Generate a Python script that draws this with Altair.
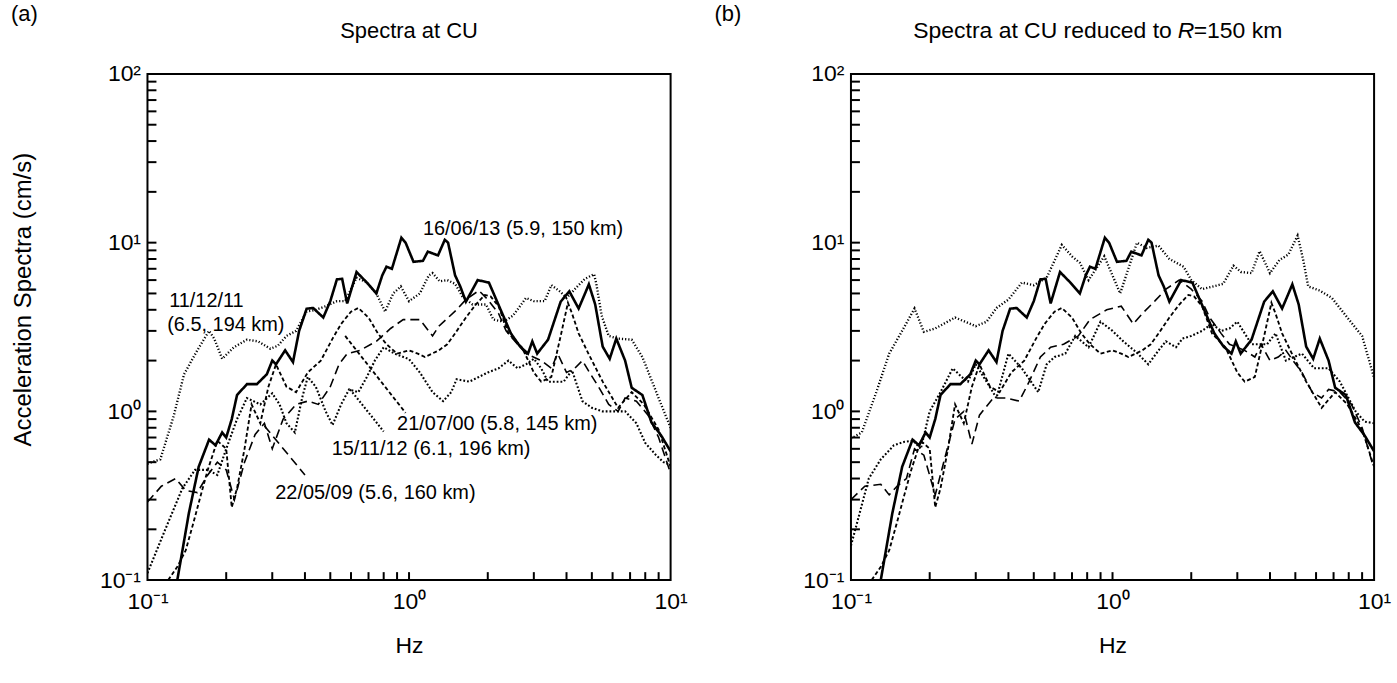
import altair as alt
import pandas as pd

FONT = "Liberation Sans"
W, H = 525, 508

# ---------------- data ----------------
# 16/06/13 (5.9, 150 km) - solid, same in both panels
s_f = [0.13, 0.135, 0.144, 0.157, 0.172, 0.182, 0.193, 0.2, 0.21, 0.22, 0.24, 0.262, 0.286, 0.3, 0.31, 0.336, 0.36, 0.38, 0.406, 0.43, 0.47, 0.5, 0.53, 0.555, 0.58, 0.63, 0.69, 0.75, 0.79, 0.82, 0.86, 0.935, 0.97, 1.04, 1.13, 1.18, 1.29, 1.37, 1.41, 1.5, 1.57, 1.65, 1.83, 2.02, 2.2, 2.45, 2.66, 2.85, 2.96, 3.09, 3.4, 3.8, 4.1, 4.45, 4.87, 5.15, 5.5, 5.85, 6.2, 6.7, 7.1, 7.8, 8.45, 9.2, 10.0]
s_v = [0.1, 0.14, 0.25, 0.47, 0.68, 0.63, 0.75, 0.7, 0.9, 1.25, 1.45, 1.45, 1.66, 2.0, 1.9, 2.3, 1.96, 3.0, 4.06, 4.1, 3.6, 4.5, 6.06, 6.1, 4.36, 6.7, 5.8, 5.0, 6.4, 7.2, 7.0, 10.7, 10.0, 7.7, 7.8, 8.85, 8.4, 10.4, 10.0, 6.4, 5.5, 4.47, 6.0, 5.8, 4.27, 2.9, 2.42, 2.2, 2.6, 2.2, 2.66, 4.47, 5.15, 4.07, 5.66, 4.3, 2.42, 2.05, 2.7, 2.0, 1.38, 1.25, 0.86, 0.72, 0.58]

# 11/12/11 (6.5, 194 km) - fine dots
b_a_f = [0.1, 0.112, 0.126, 0.138, 0.155, 0.172, 0.18, 0.193, 0.214, 0.24, 0.265, 0.295, 0.315, 0.34, 0.37, 0.406, 0.44, 0.48, 0.53, 0.57, 0.63, 0.69, 0.75, 0.81, 0.87, 0.93, 1.0, 1.1, 1.19, 1.23, 1.31, 1.4, 1.5, 1.6, 1.75, 1.97, 2.1, 2.3, 2.5, 2.8, 3.0, 3.3, 3.5, 3.8, 4.0, 4.45, 4.7, 5.1, 5.2, 5.45, 5.8, 6.3, 7.1, 7.8, 8.5, 9.2, 10.0]
b_a_v = [0.49, 0.52, 0.94, 1.66, 2.3, 3.0, 2.7, 2.05, 2.4, 2.66, 2.6, 2.35, 2.45, 2.8, 3.0, 3.9, 4.0, 4.2, 4.5, 4.5, 6.2, 5.8, 5.0, 3.9, 5.0, 5.5, 4.5, 5.0, 6.4, 6.6, 5.9, 6.0, 5.7, 4.8, 4.3, 4.3, 3.5, 3.4, 3.7, 4.7, 4.5, 4.5, 5.6, 5.1, 4.7, 5.6, 6.1, 6.5, 5.7, 3.7, 2.8, 2.7, 2.66, 2.1, 1.5, 1.1, 0.8]
b_b_f = [0.1, 0.11, 0.125, 0.14, 0.155, 0.175, 0.19, 0.21, 0.25, 0.3, 0.33, 0.36, 0.4, 0.45, 0.5, 0.56, 0.64, 0.7, 0.75, 0.81, 0.93, 1.07, 1.24, 1.35, 1.5, 1.65, 1.87, 2.0, 2.2, 2.65, 2.9, 3.1, 3.4, 3.65, 4.0, 4.35, 4.7, 5.1, 5.35, 5.6, 6.2, 6.9, 7.9, 9.0, 10.0]
b_b_v = [0.69, 0.75, 1.3, 2.2, 2.9, 4.07, 2.96, 3.1, 3.6, 3.2, 3.4, 4.1, 4.6, 5.8, 5.6, 6.2, 9.7, 8.3, 7.6, 6.0, 8.3, 5.0, 10.0, 9.3, 9.6, 8.0, 7.2, 6.0, 5.3, 5.7, 7.3, 6.7, 6.6, 8.9, 6.6, 7.9, 8.5, 11.0, 8.0, 5.5, 5.2, 4.7, 3.6, 2.8, 1.58]

# 15/11/12 (6.1, 196 km) - dots
c_a_f = [0.1, 0.117, 0.136, 0.152, 0.17, 0.185, 0.2, 0.22, 0.24, 0.27, 0.3, 0.32, 0.34, 0.366, 0.39, 0.41, 0.44, 0.48, 0.51, 0.55, 0.59, 0.64, 0.69, 0.74, 0.8, 0.88, 1.0, 1.1, 1.23, 1.35, 1.45, 1.52, 1.7, 1.85, 2.0, 2.2, 2.4, 2.6, 2.8, 3.0, 3.2, 3.4, 3.9, 4.2, 4.6, 5.0, 5.5, 6.0, 6.7, 7.4, 8.0, 8.8, 9.4, 10.0]
c_a_v = [0.11, 0.2, 0.35, 0.45, 0.45, 0.42, 0.6, 0.9, 1.2, 1.1, 1.28, 1.1, 0.85, 0.75, 1.2, 1.6, 1.4, 1.0, 0.83, 1.1, 1.35, 1.3, 1.6, 2.0, 2.4, 2.2, 2.04, 1.7, 1.3, 1.15, 1.3, 1.55, 1.5, 1.6, 1.7, 1.8, 2.0, 1.8, 1.9, 2.05, 1.8, 1.5, 1.5, 1.75, 1.15, 1.05, 1.0, 1.0, 1.0, 0.85, 0.65, 0.55, 0.5, 0.48]
c_b_f = [0.1, 0.108, 0.117, 0.13, 0.146, 0.16, 0.173, 0.185, 0.2, 0.22, 0.245, 0.265, 0.28, 0.3, 0.33, 0.36, 0.4, 0.45, 0.52, 0.56, 0.6, 0.66, 0.72, 0.81, 0.9, 1.0, 1.1, 1.25, 1.37, 1.5, 1.6, 1.75, 1.85, 2.0, 2.2, 2.4, 2.6, 2.8, 3.0, 3.4, 3.9, 4.2, 4.6, 5.3, 5.9, 6.7, 7.4, 8.5, 9.2, 10.0]
c_b_v = [0.16, 0.25, 0.4, 0.52, 0.63, 0.66, 0.67, 0.6, 1.0, 1.3, 1.8, 1.6, 1.5, 1.9, 1.5, 1.2, 2.2, 1.8, 1.3, 1.9, 2.1, 2.2, 2.8, 2.4, 3.4, 3.0, 2.6, 2.2, 1.9, 2.3, 2.6, 2.4, 2.7, 2.8, 3.0, 3.3, 3.0, 3.1, 3.4, 2.5, 2.5, 2.9, 2.0, 2.2, 1.8, 1.8, 1.5, 1.0, 0.87, 0.85]

# 21/07/00 (5.8, 145 km) - short dashes, practically unchanged by the reduction
d_f = [0.12, 0.13, 0.14, 0.15, 0.16, 0.17, 0.185, 0.2, 0.21, 0.22, 0.235, 0.25, 0.27, 0.29, 0.31, 0.34, 0.37, 0.41, 0.46, 0.51, 0.55, 0.6, 0.64, 0.7, 0.76, 0.82, 0.9, 1.0, 1.08, 1.15, 1.3, 1.4, 1.5, 1.65, 1.8, 1.95, 2.05, 2.2, 2.4, 2.7, 3.0, 3.2, 3.5, 3.8, 4.05, 4.2, 4.45, 4.85, 5.5, 6.3, 7.1, 7.9, 9.0, 10.0]
d_v = [0.1, 0.12, 0.15, 0.22, 0.32, 0.45, 0.67, 0.6, 0.27, 0.35, 0.6, 1.1, 0.85, 1.4, 1.9, 1.4, 1.3, 1.7, 2.0, 2.7, 3.3, 3.9, 4.1, 3.6, 2.9, 2.5, 2.2, 2.3, 2.2, 2.1, 2.3, 2.5, 2.9, 3.6, 4.3, 4.9, 4.8, 4.2, 2.9, 2.4, 1.7, 1.5, 1.6, 2.8, 4.4, 3.8, 2.9, 2.2, 1.5, 1.05, 1.3, 1.1, 0.78, 0.47]

# 22/05/09 (5.6, 160 km) - long dashes
e_a_f = [0.1, 0.113, 0.128, 0.14, 0.155, 0.17, 0.185, 0.2, 0.215, 0.235, 0.258, 0.28, 0.3, 0.33, 0.37, 0.41, 0.45, 0.5, 0.54, 0.58, 0.65, 0.75, 0.85, 0.95, 1.1, 1.23, 1.3, 1.52, 1.65, 1.85, 2.0, 2.2, 2.35, 2.6, 2.8, 3.2, 3.5, 3.7, 4.0, 4.3, 4.6, 4.9, 5.3, 5.8, 6.3, 6.7, 7.4, 8.2, 9.0, 9.9]
e_a_v = [0.29, 0.36, 0.4, 0.34, 0.33, 0.42, 0.5, 0.45, 0.3, 0.5, 0.73, 0.85, 0.6, 0.9, 1.1, 1.15, 1.1, 1.4, 1.9, 2.2, 2.3, 2.6, 3.1, 3.5, 3.5, 2.8, 3.2, 4.0, 4.6, 5.2, 4.6, 3.8, 3.0, 2.5, 2.2, 2.0, 1.8, 2.2, 1.7, 1.8, 2.0, 1.7, 1.4, 1.1, 1.0, 1.2, 1.15, 0.95, 0.7, 0.45]
e_b_f = [0.1, 0.113, 0.13, 0.14, 0.15, 0.163, 0.175, 0.19, 0.21, 0.23, 0.25, 0.27, 0.29, 0.31, 0.35, 0.39, 0.44, 0.48, 0.53, 0.58, 0.65, 0.74, 0.82, 0.95, 1.08, 1.2, 1.3, 1.45, 1.6, 1.8, 2.0, 2.2, 2.35, 2.6, 2.8, 3.2, 3.5, 3.7, 4.0, 4.3, 4.6, 4.9, 5.3, 5.8, 6.3, 6.7, 7.4, 8.2, 9.0, 9.9]
e_b_v = [0.3, 0.36, 0.37, 0.32, 0.36, 0.4, 0.6, 0.55, 0.32, 0.55, 0.9, 1.0, 0.64, 0.95, 1.2, 1.2, 1.15, 1.5, 2.1, 2.4, 2.5, 2.8, 3.5, 4.0, 4.2, 3.3, 3.8, 4.5, 5.3, 6.0, 5.3, 4.5, 3.6, 2.9, 2.5, 2.3, 2.1, 2.5, 2.0, 2.1, 2.3, 2.0, 1.7, 1.3, 1.2, 1.35, 1.3, 1.1, 0.8, 0.48]

# annotations in panel (a)
label_text = ["16/06/13 (5.9, 150 km)", "11/12/11", "(6.5, 194 km)",
              "21/07/00 (5.8, 145 km)", "15/11/12 (6.1, 196 km)", "22/05/09 (5.6, 160 km)"]
label_f = [1.13, 0.121, 0.119, 0.9, 0.506, 0.308]
label_v = [12.1, 4.5, 3.25, 0.84, 0.6, 0.33]

# leader lines (start, end) in panel (a)
lead_style = ["dash_short", "dot", "dash_long"]
lead_f = [[0.57, 0.97], [0.595, 0.8], [0.28, 0.40]]
lead_v = [[2.8, 0.98], [1.35, 0.76], [0.82, 0.42]]

minor_x = [0.2, 0.3, 0.4, 0.5, 0.6, 0.7, 0.8, 0.9, 1, 2, 3, 4, 5, 6, 7, 8, 9]
minor_y = [0.2, 0.3, 0.4, 0.5, 0.6, 0.7, 0.8, 0.9, 1, 2, 3, 4, 5, 6, 7, 8, 9, 10,
           20, 30, 40, 50, 60, 70, 80, 90]

style_domain = ["solid", "dot_fine", "dot", "dash_short", "dash_long"]
dash_range = [[1, 0], [1.2, 2.0], [1.8, 2.0], [4, 2.5], [9, 5]]
width_range = [2.6, 1.6, 2.0, 2.6, 2.4]


def series_rows(fs, vs, group, style):
    return [{"f": f, "v": v, "g": group, "s": style} for f, v in zip(fs, vs)]


rows_a = (series_rows(s_f, s_v, "S", "solid") + series_rows(b_a_f, b_a_v, "B", "dot_fine")
          + series_rows(c_a_f, c_a_v, "C", "dot") + series_rows(d_f, d_v, "D", "dash_short")
          + series_rows(e_a_f, e_a_v, "E", "dash_long"))
for i, (lf, lv) in enumerate(zip(lead_f, lead_v)):
    rows_a += series_rows(lf, lv, "L%d" % i, lead_style[i])
rows_b = (series_rows(s_f, s_v, "S", "solid") + series_rows(b_b_f, b_b_v, "B", "dot_fine")
          + series_rows(c_b_f, c_b_v, "C", "dot") + series_rows(d_f, d_v, "D", "dash_short")
          + series_rows(e_b_f, e_b_v, "E", "dash_long"))

xs = alt.Scale(type="log", domain=[0.1, 10], nice=False)
ys = alt.Scale(type="log", domain=[0.1, 100], nice=False)

label_expr = ("datum.value < 0.5 ? '10\u207b\u00b9' : datum.value < 5 ? '10\u2070' : "
              "datum.value < 50 ? '10\u00b9' : '10\u00b2'")


def panel(rows, letter, ytitle, title_parts, with_labels):
    xaxis = alt.Axis(values=[0.1, 1, 10], labelExpr=label_expr, ticks=False, domain=False,
                     grid=False, labelFont=FONT, labelFontSize=23, labelColor="black",
                     labelPadding=10, labelFlush=False, title="Hz", titleFont=FONT,
                     titleFontSize=23, titleFontWeight="normal", titleColor="black",
                     titleY=66, titleBaseline="middle")
    yaxis_kw = dict(values=[0.1, 1, 10, 100], labelExpr=label_expr, ticks=False, domain=False,
                    grid=False, labelFont=FONT, labelFontSize=23, labelColor="black",
                    labelPadding=7, labelFlush=False)
    if ytitle:
        yaxis = alt.Axis(title=ytitle, titleFont=FONT, titleFontSize=24,
                         titleFontWeight="normal", titleColor="black", titleX=-124,
                         titleY=226, titleAngle=270, titleAlign="center",
                         titleBaseline="middle", **yaxis_kw)
    else:
        yaxis = alt.Axis(title=None, **yaxis_kw)

    lines = alt.Chart(pd.DataFrame(rows)).mark_line(color="black", clip=True).encode(
        x=alt.X("f:Q", scale=xs, axis=xaxis),
        y=alt.Y("v:Q", scale=ys, axis=yaxis),
        detail="g:N",
        strokeDash=alt.StrokeDash("s:N", scale=alt.Scale(domain=style_domain, range=dash_range), legend=None),
        strokeWidth=alt.StrokeWidth("s:N", scale=alt.Scale(domain=style_domain, range=width_range), legend=None),
    )
    xt = alt.Chart(pd.DataFrame({"f": minor_x})).mark_rule(color="black", strokeWidth=2).encode(
        x=alt.X("f:Q", scale=xs, axis=xaxis), y=alt.value(H), y2=alt.value(H - 8))
    yt = alt.Chart(pd.DataFrame({"v": minor_y})).mark_rule(color="black", strokeWidth=2).encode(
        y=alt.Y("v:Q", scale=ys, axis=yaxis), x=alt.value(0), x2=alt.value(9))
    let = alt.Chart(pd.DataFrame({"t": [letter]})).mark_text(
        align="left", baseline="middle", fontSize=22, font=FONT, color="black").encode(
        x=alt.value(-137), y=alt.value(-60), text="t:N")
    layers = [lines, xt, yt, let]
    ty = -43
    if len(title_parts) == 1:
        layers.append(alt.Chart(pd.DataFrame({"t": title_parts})).mark_text(
            align="center", baseline="middle", fontSize=22, font=FONT, color="black").encode(
            x=alt.value(W / 2), y=alt.value(ty), text="t:N"))
    else:
        x0 = 322
        layers.append(alt.Chart(pd.DataFrame({"t": [title_parts[0]]})).mark_text(
            align="right", baseline="middle", fontSize=23, font=FONT, color="black").encode(
            x=alt.value(x0), y=alt.value(ty), text="t:N"))
        layers.append(alt.Chart(pd.DataFrame({"t": [title_parts[1]]})).mark_text(
            align="left", baseline="middle", fontSize=23, font=FONT, fontStyle="italic",
            color="black").encode(x=alt.value(x0 + 6), y=alt.value(ty), text="t:N"))
        layers.append(alt.Chart(pd.DataFrame({"t": [title_parts[2]]})).mark_text(
            align="left", baseline="middle", fontSize=23, font=FONT, color="black").encode(
            x=alt.value(x0 + 6 + 16), y=alt.value(ty), text="t:N"))
    if with_labels:
        lab = alt.Chart(pd.DataFrame({"f": label_f, "v": label_v, "t": label_text})).mark_text(
            align="left", baseline="middle", fontSize=20, font=FONT, color="black").encode(
            x=alt.X("f:Q", scale=xs, axis=xaxis), y=alt.Y("v:Q", scale=ys, axis=yaxis), text="t:N")
        layers.append(lab)
    return alt.layer(*layers).properties(width=W, height=H)


pa = panel(rows_a, "(a)", "Acceleration Spectra (cm/s)", ["Spectra at CU"], True)
pb = panel(rows_b, "(b)", None, ["Spectra at CU reduced to", "R", "=150 km"], False)

chart = alt.hconcat(pa, pb, spacing=25).properties(
    padding={"left": 10, "top": 1, "right": 5, "bottom": 5}
).configure(background="white").configure_view(stroke="black", strokeWidth=2)

chart.save("out.html", embed_options={"renderer": "svg", "actions": False})
